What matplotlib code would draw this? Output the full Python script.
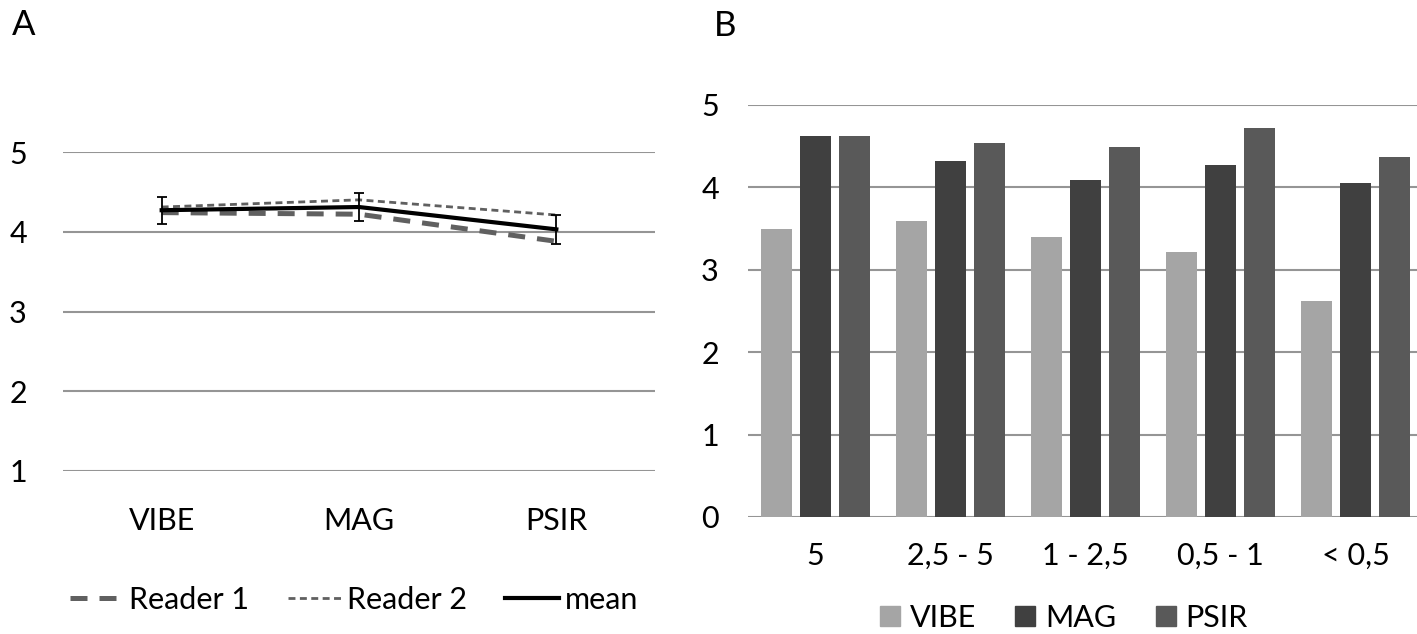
import numpy as np
import matplotlib
matplotlib.use('Agg')
from matplotlib import pyplot as plt
from matplotlib.lines import Line2D
from matplotlib.patches import Patch

plt.rcParams['font.family'] = ['Lato', 'DejaVu Sans']

# Panel A: mean score per sequence
seq = ['VIBE', 'MAG', 'PSIR']
reader1 = [4.24, 4.22, 3.88]
reader2 = [4.31, 4.40, 4.21]
mean = [4.27, 4.31, 4.03]
mean_err = [0.17, 0.17, 0.185]

# Panel B: score by lesion size
sizes = ['5', '2,5 - 5', '1 - 2,5', '0,5 - 1', '< 0,5']
vibe = [3.49, 3.59, 3.40, 3.22, 2.62]
mag = [4.62, 4.32, 4.09, 4.27, 4.05]
psir = [4.62, 4.54, 4.49, 4.72, 4.37]

W, H = 1417, 634
fig = plt.figure(figsize=(W / 100, H / 100), dpi=100)
grid_c = '#959595'
fs = 22

r1_style = dict(color='#606060', lw=3.6, dashes=(3.4, 2.4))
r2_style = dict(color='#606060', lw=2, dashes=(2.5, 1.6))

# ---- A
axa = fig.add_axes([63 / W, 1 - 471 / H, (655 - 63) / W, (471 - 152) / H])
x = np.arange(len(seq))
axa.plot(x, reader1, label='Reader 1', **r1_style)
axa.plot(x, reader2, label='Reader 2', **r2_style)
axa.errorbar(x, mean, yerr=mean_err, color='black', lw=3, elinewidth=1.3,
             capsize=3.8, capthick=1.3, label='mean')
axa.set_xlim(-0.5, 2.5)
axa.set_ylim(1, 5)
axa.set_yticks([1, 2, 3, 4, 5])
axa.set_xticks(x)
axa.set_xticklabels(seq)
axa.yaxis.grid(True, color=grid_c, lw=1.5)
axa.set_axisbelow(True)
for s in axa.spines.values():
    s.set_visible(False)
axa.tick_params(length=0, labelsize=fs)
axa.tick_params(axis='y', pad=26)
axa.tick_params(axis='x', pad=26)

h_a = [Line2D([], [], **r1_style),
       Line2D([], [], **r2_style),
       Line2D([], [], color='black', lw=3)]
fig.legend(h_a, ['Reader 1', 'Reader 2', 'mean'], loc='center',
           bbox_to_anchor=(354 / W, 1 - 600 / H), ncol=3, frameon=False,
           fontsize=fs, handlelength=1.75, handletextpad=0.2, columnspacing=1.25,
           borderpad=0, borderaxespad=0)

# ---- B
axb = fig.add_axes([748 / W, 1 - 517 / H, 675 / W, (517 - 105) / H])
xb = np.arange(len(sizes))
bw = 0.23
step = 0.29
axb.bar(xb - step, vibe, bw, color='#a5a5a5', label='VIBE')
axb.bar(xb, mag, bw, color='#404040', label='MAG')
axb.bar(xb + step, psir, bw, color='#595959', label='PSIR')
axb.set_xlim(-0.5, 4.5)
axb.set_ylim(0, 5)
axb.set_yticks(range(6))
axb.set_xticks(xb)
axb.set_xticklabels(sizes)
axb.yaxis.grid(True, color=grid_c, lw=1.5)
axb.set_axisbelow(True)
for s in axb.spines.values():
    s.set_visible(False)
axb.tick_params(length=0, labelsize=fs)
axb.tick_params(axis='y', pad=21)
axb.tick_params(axis='x', pad=18)

h_b = [Patch(color=c) for c in ['#a5a5a5', '#404040', '#595959']]
fig.legend(h_b, ['VIBE', 'MAG', 'PSIR'], loc='center',
           bbox_to_anchor=(1064 / W, 1 - 618 / H), ncol=3, frameon=False,
           fontsize=fs, handlelength=0.65, handleheight=0.65,
           handletextpad=0.33, columnspacing=1.28, borderpad=0, borderaxespad=0)

fig.text(12 / W, 1 - 25 / H, 'A', fontsize=25, va='center', ha='left')
fig.text(714 / W, 1 - 26 / H, 'B', fontsize=25, va='center', ha='left')

fig.savefig('out.png', dpi=100)
